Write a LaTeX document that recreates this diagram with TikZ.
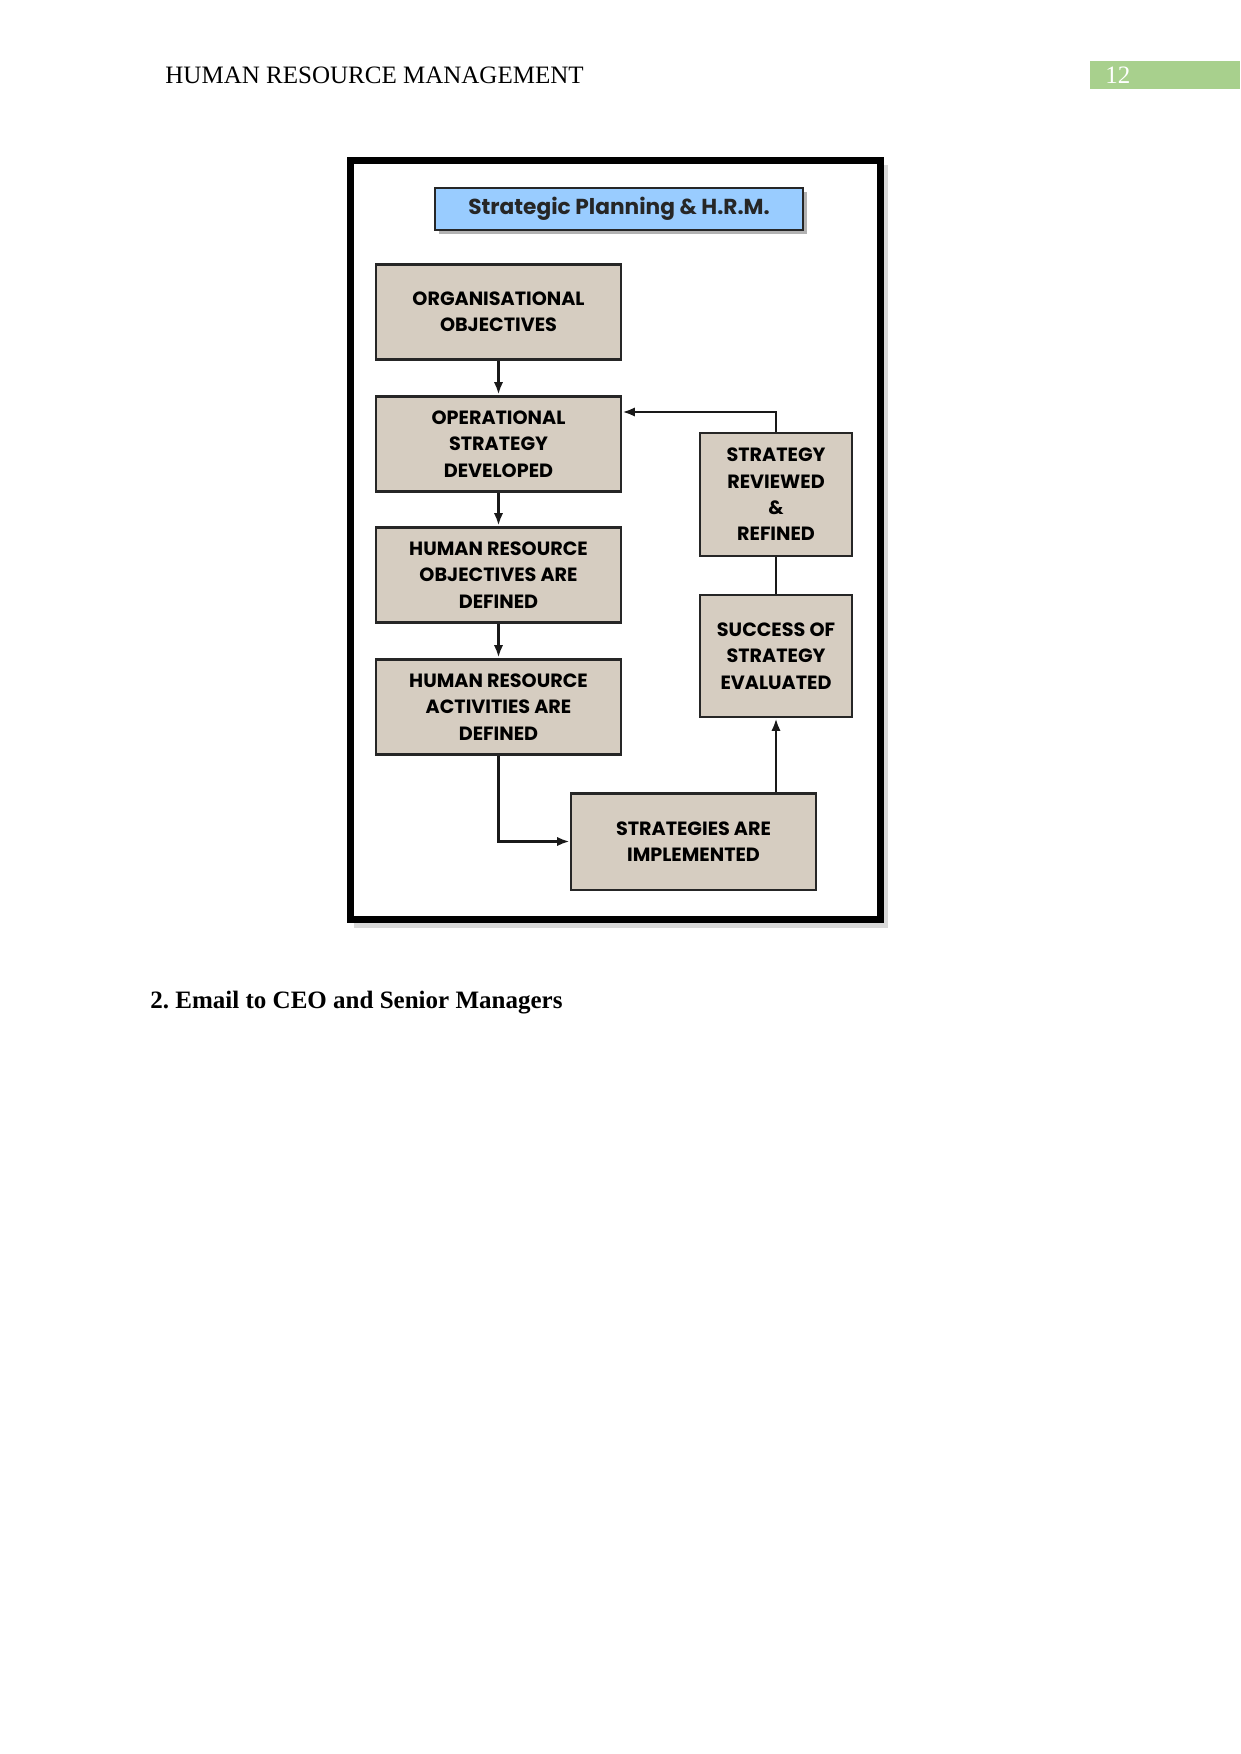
\documentclass[tikz,border=0pt]{standalone}
\usepackage{fontspec}
\setmainfont{Liberation Serif}
\newfontfamily\boxfont{Poppins}
\usetikzlibrary{arrows.meta}
\definecolor{boxfill}{HTML}{D6CDC1}
\definecolor{titlefill}{HTML}{99CCFF}
\definecolor{pagegreen}{HTML}{A8D08D}
\tikzset{
  stepbox/.style={draw=black!85, line width=1.4pt, fill=boxfill, align=center,
    font=\boxfont\bfseries\fontsize{9.2}{12.6}\selectfont, inner sep=0pt},
  conn/.style={line width=1.2pt, black!90},
  arr/.style={conn, -{Latex[length=6pt,width=4.5pt]}}
}
\begin{document}
\frenchspacing
\begin{tikzpicture}[x=0.4797pt,y=-0.4797pt]
\useasboundingbox (0,0) rectangle (1241,1754);
% header
\node[anchor=base west, inner sep=0pt, font=\fontsize{12}{14}\selectfont] (hdr) at (165,84) {HUMAN RESOURCE MANAGEMENT};
\fill[pagegreen] (1090,61) rectangle (1240,89);
\node[anchor=base west, inner sep=0pt, text=white, font=\fontsize{12}{14}\selectfont] (pg) at (1105,84) {12};
% frame with shadow
\fill[black!15] (354,165) rectangle (888,928);
\fill[white] (350.5,160.5) rectangle (880.5,919.5);
\draw[line width=3.4pt, black] (350.5,160.5) rectangle (880.5,919.5);
% title
\fill[black!30] (439,192) rectangle (807,234);
\node[draw=black!85, line width=1.2pt, fill=titlefill, minimum width=176.5pt, minimum height=20.1pt,
  inner sep=0pt, font=\boxfont\bfseries\fontsize{10.4}{12}\selectfont, text=black!85] (title) at (619,209) {Strategic Planning \& H.R.M.};
% left column
\node[stepbox, minimum width=117.5pt, minimum height=46pt] (org) at (498.5,312) {ORGANISATIONAL\\OBJECTIVES};
\node[stepbox, minimum width=117.5pt, minimum height=46pt] (op) at (498.5,444) {OPERATIONAL\\STRATEGY\\DEVELOPED};
\node[stepbox, minimum width=117.5pt, minimum height=46pt] (hrobj) at (498.5,575) {HUMAN RESOURCE\\OBJECTIVES ARE\\DEFINED};
\node[stepbox, minimum width=117.5pt, minimum height=46pt] (hract) at (498.5,707) {HUMAN RESOURCE\\ACTIVITIES ARE\\DEFINED};
% right column
\node[stepbox, minimum width=72.9pt, minimum height=59pt] (rev) at (776,494.5) {STRATEGY\\REVIEWED\\\&\\REFINED};
\node[stepbox, minimum width=72.9pt, minimum height=58.5pt] (succ) at (776,656) {SUCCESS OF\\STRATEGY\\EVALUATED};
\node[stepbox, minimum width=117.5pt, minimum height=46.5pt] (impl) at (693.5,841.5) {STRATEGIES ARE\\IMPLEMENTED};
% connectors
\draw[arr] (org) -- (op);
\draw[arr] (op) -- (hrobj);
\draw[arr] (hrobj) -- (hract);
\draw[arr] (hract.south) |- (impl.west);
\draw[arr] (succ.south |- impl.north) -- (succ.south);
\draw[conn] (succ.north) -- (rev.south);
\coordinate (fb) at (776,412);
\draw[arr] (rev.north) -- (fb) -- (op.east |- fb);
% section heading
\node[anchor=base west, inner sep=0pt, font=\bfseries\fontsize{12}{14}\selectfont] (sec) at (150,1008) {2. Email to CEO and Senior Managers};
\end{tikzpicture}
\end{document}
